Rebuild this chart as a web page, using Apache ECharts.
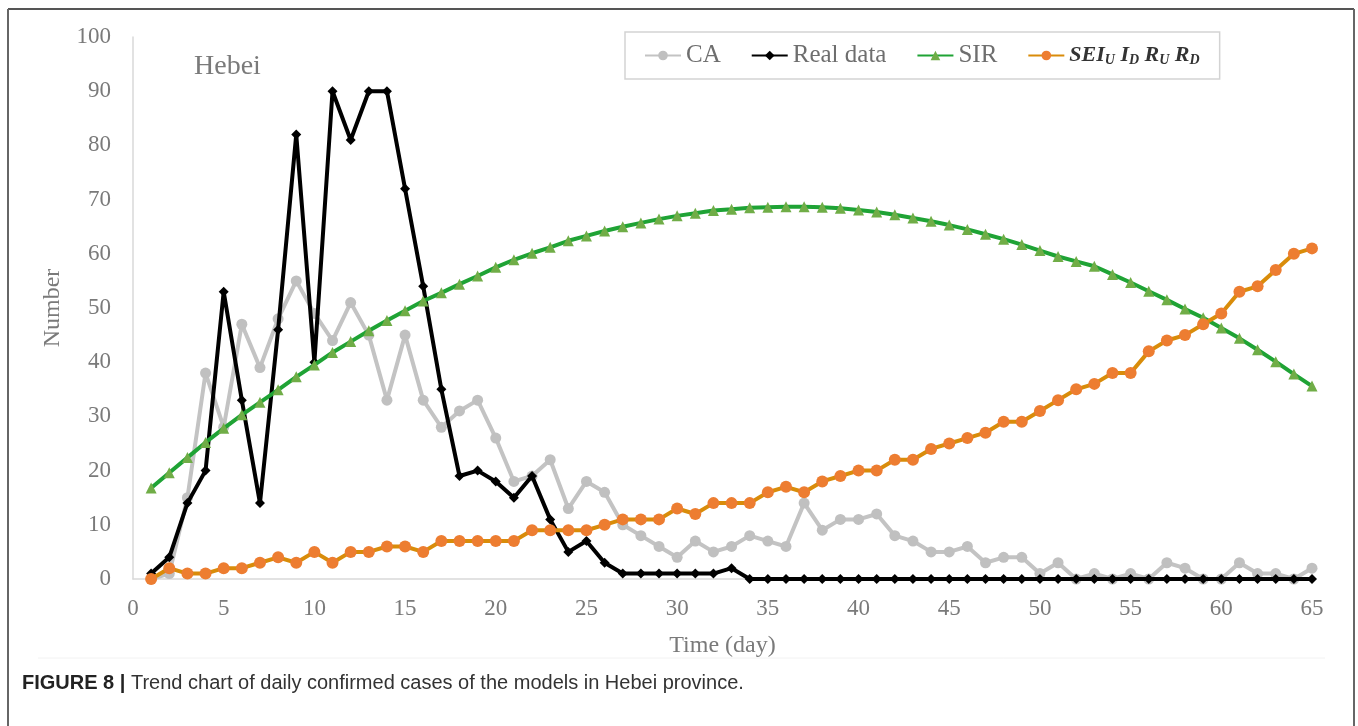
<!DOCTYPE html>
<html>
<head>
    <meta charset="utf-8">
    <title>Hebei</title>
    <script src="https://cdn.jsdelivr.net/npm/echarts@6/dist/echarts.min.js"></script>
    <style>
        html, body { margin: 0; padding: 0; background: #fff; }
    </style>
</head>
<body>
<div id="main" style="width: 1358px;height:726px;"></div>
<script type="text/javascript">

        // days 1..65
        var days = [];
        for (var d = 1; d <= 65; d++) days.push(d);

        var seriesNames = ['CA', 'Real data', 'SIR', 'SEIR'];

        var caValues = [0, 1, 15, 38, 28, 47, 39, 48, 55, 49,
            44, 51, 45, 33, 45, 33, 28, 31, 33, 26,
            18, 19, 22, 13, 18, 16, 10, 8, 6, 4,
            7, 5, 6, 8, 7, 6, 14, 9, 11, 11,
            12, 8, 7, 5, 5, 6, 3, 4, 4, 1,
            3, 0, 1, 0, 1, 0, 3, 2, 0, 0,
            3, 1, 1, 0, 2];

        var realValues = [1, 4, 14, 20, 53, 33, 14, 46, 82, 40,
            90, 81, 90, 90, 72, 54, 35, 19, 20, 18,
            15, 19, 11, 5, 7, 3, 1, 1, 1, 1,
            1, 1, 2, 0, 0, 0, 0, 0, 0, 0,
            0, 0, 0, 0, 0, 0, 0, 0, 0, 0,
            0, 0, 0, 0, 0, 0, 0, 0, 0, 0,
            0, 0, 0, 0, 0];

        var sirValues = [16.8, 19.6, 22.4, 25.2, 27.8, 30.3, 32.6, 34.9, 37.3, 39.5,
            41.8, 43.8, 45.8, 47.7, 49.5, 51.3, 52.8, 54.4, 55.9, 57.5,
            58.9, 60.1, 61.2, 62.4, 63.3, 64.2, 65.0, 65.7, 66.4, 67.0,
            67.5, 68.0, 68.2, 68.5, 68.6, 68.7, 68.7, 68.6, 68.4, 68.1,
            67.7, 67.2, 66.6, 66.0, 65.3, 64.5, 63.6, 62.7, 61.7, 60.6,
            59.5, 58.6, 57.7, 56.2, 54.7, 53.1, 51.5, 49.8, 48.2, 46.3,
            44.4, 42.3, 40.1, 37.8, 35.6];

        var seirValues = [0, 2, 1, 1, 2, 2, 3, 4, 3, 5,
            3, 5, 5, 6, 6, 5, 7, 7, 7, 7,
            7, 9, 9, 9, 9, 10, 11, 11, 11, 13,
            12, 14, 14, 14, 16, 17, 16, 18, 19, 20,
            20, 22, 22, 24, 25, 26, 27, 29, 29, 31,
            33, 35, 36, 38, 38, 42, 44, 45, 47, 49,
            53, 54, 57, 60, 61];

        function pairs(vals) {
            return days.map(function (day, i) { return [day, vals[i]]; });
        }

        var serif = '"Liberation Serif", "DejaVu Serif", serif';
        var sans = '"Liberation Sans", Arial, sans-serif';

        var option = {
            animation: false,
            backgroundColor: '#fff',
            title: {
                text: 'Hebei',
                left: 189,
                top: 48,
                textStyle: { fontFamily: serif, fontSize: 28, fontWeight: 'normal', color: '#7a7a7a' }
            },
            legend: {
                left: 625,
                top: 32,
                padding: [11, 20, 11, 19],
                borderColor: '#d3d3d3',
                borderWidth: 1.5,
                itemGap: 30,
                itemWidth: 36,
                itemHeight: 12,
                data: seriesNames,
                formatter: function (name) {
                    if (name === 'SEIR') {
                        return '{i|SEI}{s|U}{i| I}{s|D}{i| R}{s|U}{i| R}{s|D}';
                    }
                    return name;
                },
                textStyle: {
                    fontFamily: serif,
                    fontSize: 25,
                    color: '#6e6e6e',
                    rich: {
                        i: { fontFamily: serif, fontSize: 22, fontStyle: 'italic', fontWeight: 'bold', color: '#333' },
                        s: { fontFamily: serif, fontSize: 14, fontStyle: 'italic', fontWeight: 'bold', color: '#333', padding: [10, 0, 0, 0] }
                    }
                }
            },
            grid: {
                left: 133,
                right: 46,
                top: 37,
                bottom: 147
            },
            xAxis: {
                type: 'value',
                min: 0,
                max: 65,
                interval: 5,
                name: 'Time (day)',
                nameLocation: 'middle',
                nameGap: 55,
                nameTextStyle: { fontFamily: serif, fontSize: 24, color: '#7a7a7a' },
                axisLine: { lineStyle: { color: '#d9d9d9', width: 1.5 } },
                axisTick: { show: false },
                splitLine: { show: false },
                axisLabel: { fontFamily: serif, fontSize: 23, color: '#7a7a7a', margin: 18 }
            },
            yAxis: {
                type: 'value',
                min: 0,
                max: 100,
                interval: 10,
                name: 'Number',
                nameLocation: 'middle',
                nameGap: 68,
                nameTextStyle: { fontFamily: serif, fontSize: 24, color: '#7a7a7a' },
                axisLine: { show: true, lineStyle: { color: '#d9d9d9', width: 1.5 } },
                axisTick: { show: false },
                splitLine: { show: false },
                axisLabel: { fontFamily: serif, fontSize: 23, color: '#7a7a7a', margin: 22 }
            },
            series: [
                {
                    name: 'CA',
                    type: 'line',
                    data: pairs(caValues),
                    symbol: 'circle',
                    symbolSize: 11,
                    lineStyle: { color: '#c3c3c3', width: 4 },
                    itemStyle: { color: '#c0c0c0' },
                    z: 2
                },
                {
                    name: 'Real data',
                    type: 'line',
                    data: pairs(realValues),
                    symbol: 'diamond',
                    symbolSize: 10,
                    lineStyle: { color: '#000', width: 4 },
                    itemStyle: { color: '#000' },
                    z: 3
                },
                {
                    name: 'SIR',
                    type: 'line',
                    data: pairs(sirValues),
                    symbol: 'triangle',
                    symbolSize: 11,
                    lineStyle: { color: '#1fa335', width: 4 },
                    itemStyle: { color: '#70ad47' },
                    z: 4
                },
                {
                    name: 'SEIR',
                    type: 'line',
                    data: pairs(seirValues),
                    symbol: 'circle',
                    symbolSize: 12,
                    lineStyle: { color: '#d98c0a', width: 4 },
                    itemStyle: { color: '#ed7d31' },
                    z: 5
                }
            ],
            graphic: [
                // figure frame
                { type: 'line', shape: { x1: 8, y1: 9, x2: 1354, y2: 9 }, style: { stroke: '#555', lineWidth: 2 } },
                { type: 'line', shape: { x1: 8, y1: 9, x2: 8, y2: 726 }, style: { stroke: '#666', lineWidth: 2 } },
                { type: 'line', shape: { x1: 1354, y1: 9, x2: 1354, y2: 726 }, style: { stroke: '#666', lineWidth: 2 } },
                // faint edge of the chart image
                { type: 'line', shape: { x1: 38, y1: 658, x2: 1325, y2: 658 }, style: { stroke: '#f2f2f2', lineWidth: 1 } },
                // caption
                {
                    type: 'text',
                    left: 22,
                    top: 673,
                    style: {
                        text: '{b|FIGURE 8 |} Trend chart of daily confirmed cases of the models in Hebei province.',
                        fontFamily: sans,
                        fontSize: 20,
                        fill: '#333',
                        rich: {
                            b: { fontFamily: sans, fontSize: 20, fontWeight: 'bold', fill: '#222' }
                        }
                    }
                }
            ]
        };

        var myChart = echarts.init(document.getElementById('main'));
        myChart.setOption(option);

</script>
</body>
</html>
